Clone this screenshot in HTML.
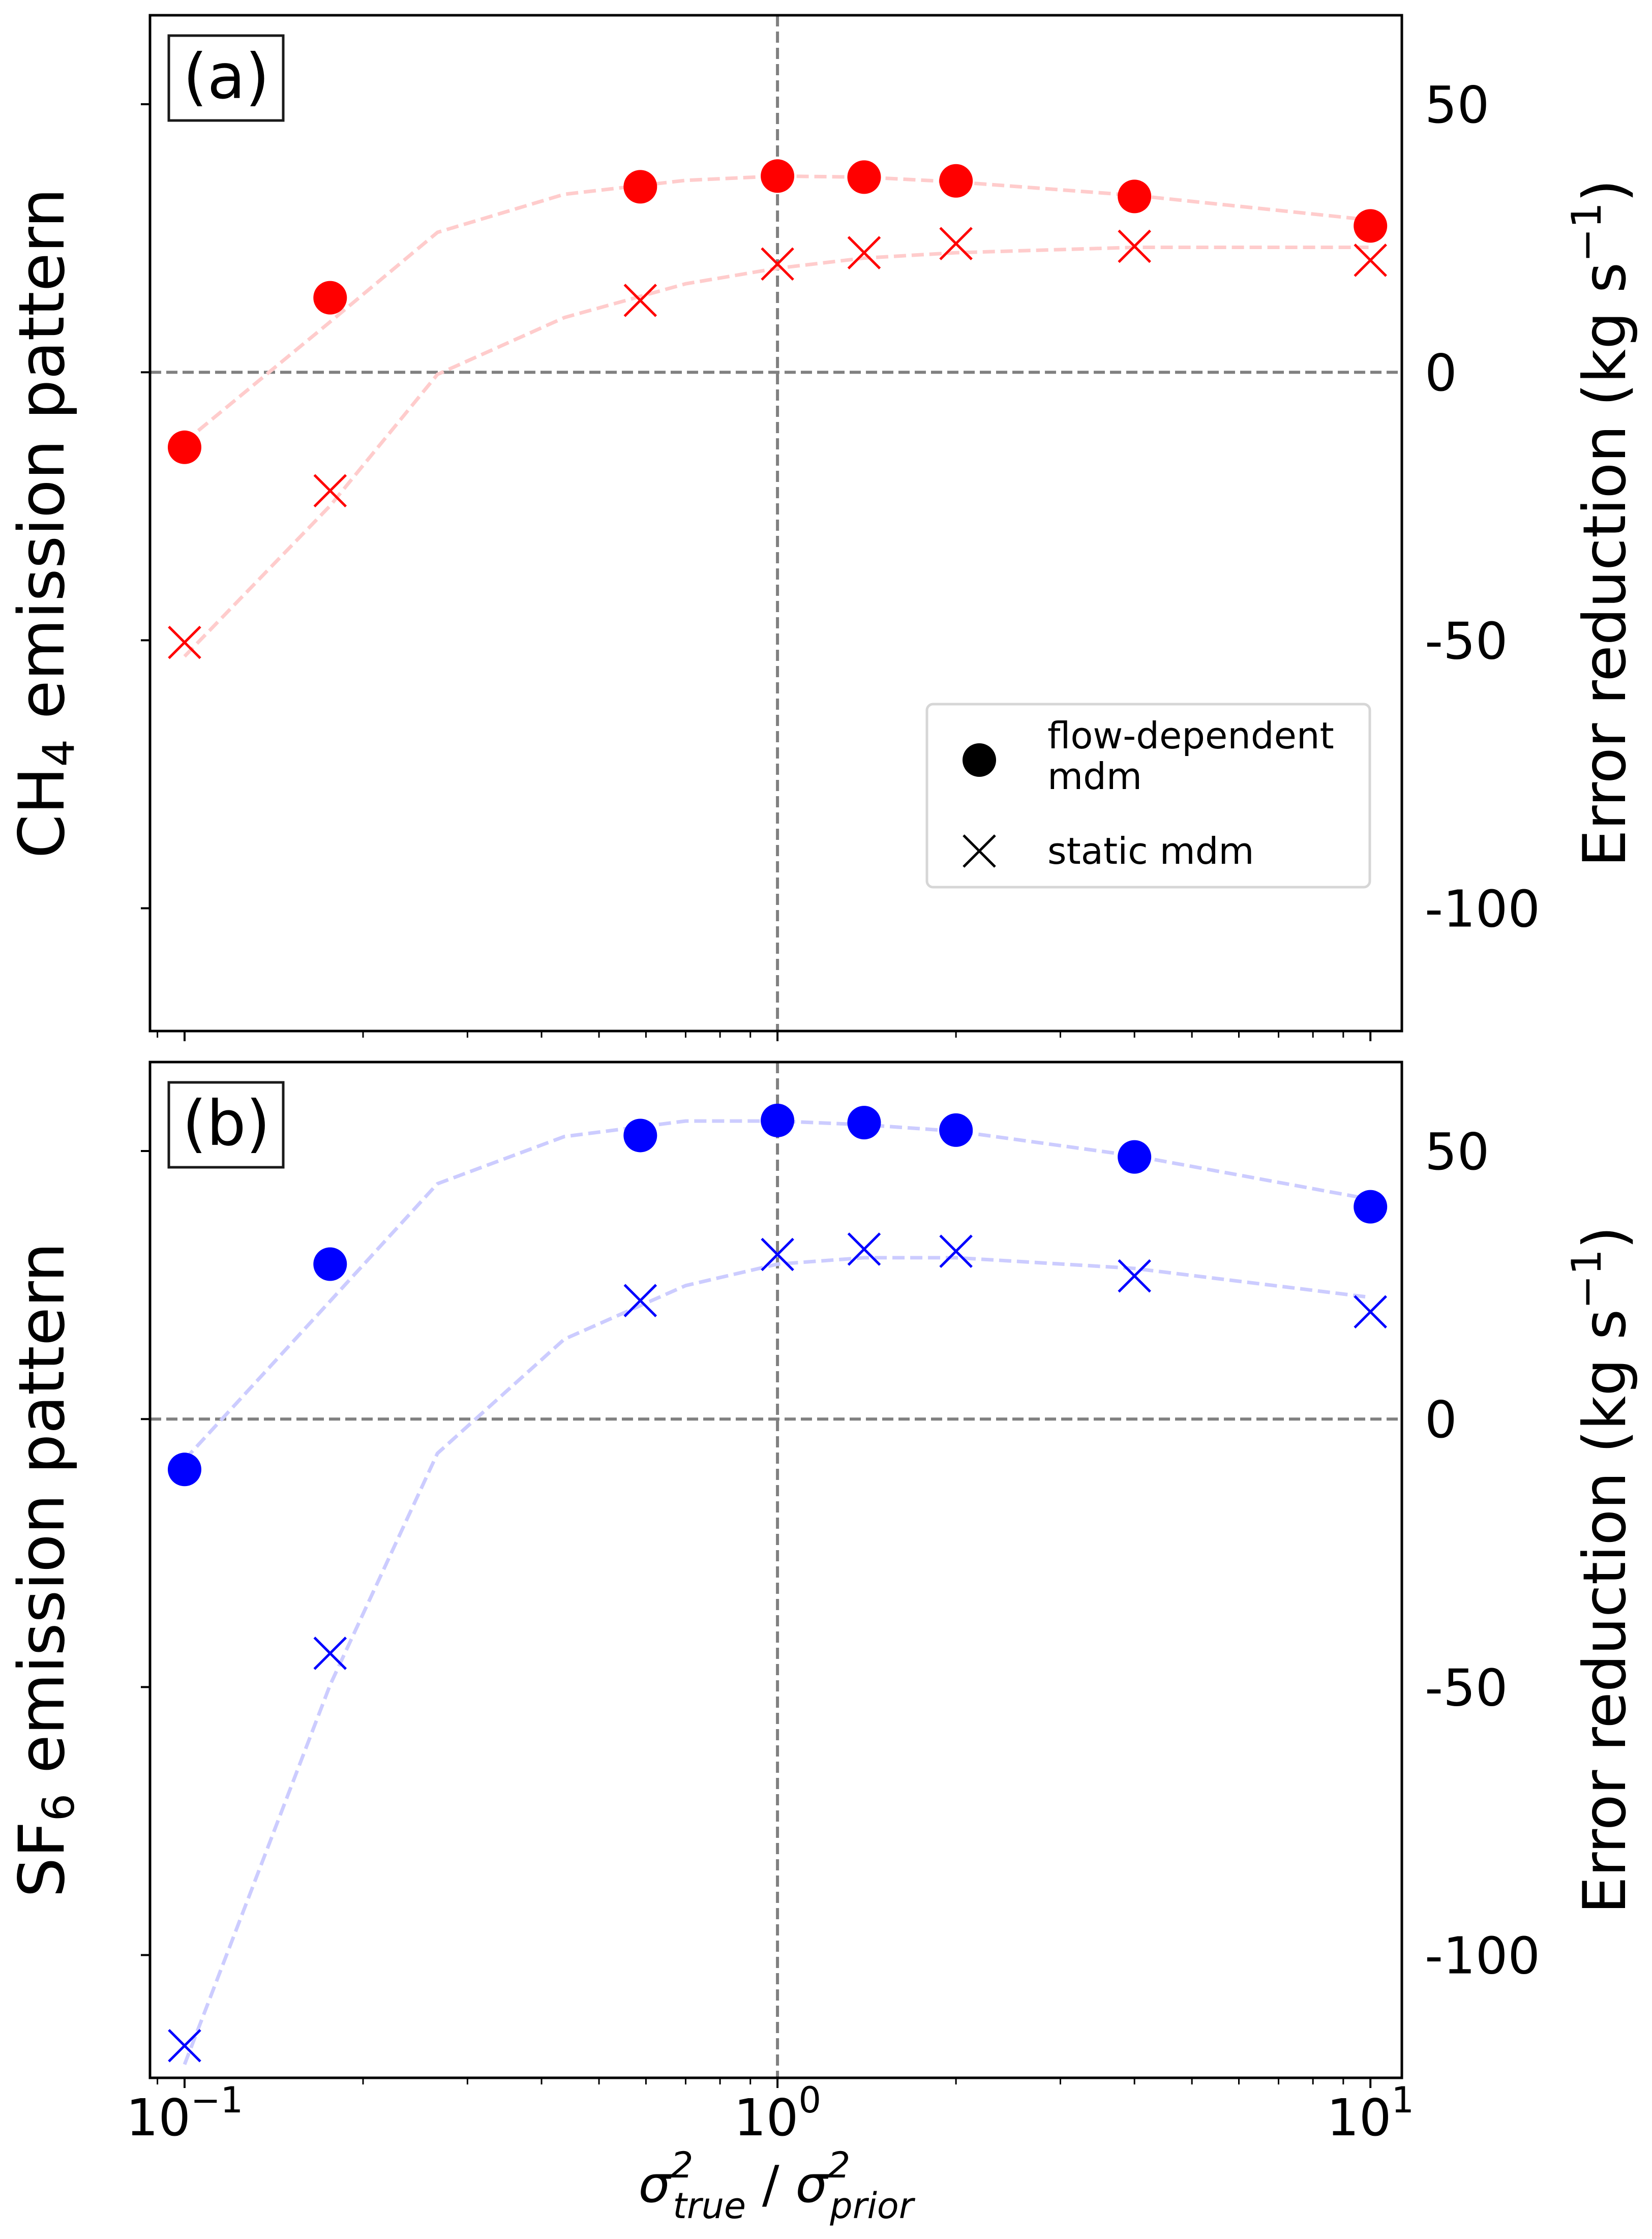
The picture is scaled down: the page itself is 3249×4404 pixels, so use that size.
<!DOCTYPE html>
<html><head><meta charset="utf-8"><style>
html,body{margin:0;padding:0;background:#fff;}
svg{display:block;font-family:"DejaVu Sans","Liberation Sans",sans-serif;}
</style></head><body>
<svg id="chart" xmlns="http://www.w3.org/2000/svg" width="3249" height="4404" viewBox="0 0 3249 4404"></svg>
<script>
const xs=[0.1,0.176,0.587,1,1.4,2,4,10];
const lineXs=[0.1,0.176,0.267,0.437,0.7,1,1.4,2,4,10];
const aCircle=[-14.0,13.9,34.6,36.6,36.4,35.7,32.8,27.3];
const aCross=[-50.4,-22.1,13.4,20.2,22.3,24.0,23.5,20.9];
const aCircleLine=[-13,9.4,26.1,33.2,35.8,36.6,36.4,35.5,33,28.4];
const aCrossLine=[-53,-24.9,-0.4,10.2,16.5,19.4,21.3,22.3,23.3,23.3];
const bCircle=[-9.4,28.9,52.9,55.7,55.3,53.9,48.9,39.6];
const bCross=[-116.9,-43.7,22.1,30.7,31.7,31.3,26.7,20];
const bCircleLine=[-7.6,22,43.9,52.7,55.6,55.6,54.9,53.7,49.1,41];
const bCrossLine=[-120.4,-49.6,-6.4,14.9,24.9,28.9,30.1,30.1,28.1,22.7];
const yTicks=[50,0,-50,-100];
const yTickLabels=["50","0","-50","-100"];
const xTickExps=[-1,0,1];

const NS="http://www.w3.org/2000/svg";
const svg=document.getElementById('chart');
const L=295,R=2757,XMIN=-1.0583,XMAX=1.053,YMAX=66.6,YMIN=-122.9,PH=1998;
function xS(v){return L+(Math.log10(v)-XMIN)/(XMAX-XMIN)*(R-L);}
function yS(v,top){return top+(YMAX-v)/(YMAX-YMIN)*PH;}
function el(tag,attrs,parent){const e=document.createElementNS(NS,tag);for(const k in attrs)e.setAttribute(k,attrs[k]);(parent||svg).appendChild(e);return e;}

function panel(top,key,color,faint,circ,cross,circLine,crossLine,leftLabel,sub,showX){
  const g=el('g',{});
  
  
  const bottom=top+PH;
  const h=el('line',{x1:L,x2:R,y1:yS(0,top),y2:yS(0,top),stroke:'#808080','stroke-width':6,'stroke-dasharray':'22,10'},g);
  
  
  const v=el('line',{x1:xS(1),x2:xS(1),y1:top,y2:bottom,stroke:'#808080','stroke-width':6,'stroke-dasharray':'22,10'},g);
  
  
  [[circLine,'flow-dependent-trend-line'],[crossLine,'static-trend-line']].forEach(([arr,nm])=>{
    const p=el('polyline',{points:lineXs.map((x,i)=>xS(x)+','+yS(arr[i],top)).join(' '),fill:'none',stroke:faint,'stroke-width':7,'stroke-dasharray':'24,11'},g);
    
    
  });
  xs.forEach((x,i)=>{
    const c=el('circle',{cx:xS(x),cy:yS(circ[i],top),r:33,fill:color},g);
    
    
    const cx=xS(x),cy=yS(cross[i],top),s=31;
    const p=el('path',{d:`M${cx-s},${cy-s}L${cx+s},${cy+s}M${cx-s},${cy+s}L${cx+s},${cy-s}`,stroke:color,'stroke-width':5,fill:'none'},g);
    
    
  });
  const f=el('rect',{x:L,y:top,width:R-L,height:PH,fill:'none',stroke:'#000','stroke-width':5},g);
  
  
  yTicks.forEach((t,i)=>{
    const y=yS(t,top);
    const tk=el('line',{x1:L-18,x2:L,y1:y,y2:y,stroke:'#000','stroke-width':4},g);
    
    
    const tx=el('text',{x:2802,y:y+36,'font-size':100,fill:'#000'},g);
    tx.textContent=yTickLabels[i];
    
    
  });
  for(let e=-2;e<=1;e++){for(let m=1;m<=9;m++){
    const val=m*Math.pow(10,e);const lv=Math.log10(val);
    if(lv<XMIN||lv>XMAX)continue;
    const x=xS(val);const major=m===1;
    const tk=el('line',{x1:x,x2:x,y1:bottom,y2:bottom+(major?20:13),stroke:'#000','stroke-width':major?4:3},g);
    
    
  }}
  if(showX){
    xTickExps.forEach(e=>{
      const t=el('text',{x:xS(Math.pow(10,e)),y:4200,'font-size':100,'text-anchor':'middle',fill:'#000'},g);
      t.innerHTML='10<tspan font-size="70" dy="-45">'+(e<0?'\u2212':'')+Math.abs(e)+'</tspan>';
      
      
    });
  }
  const bx=el('rect',{x:332,y:top+40,width:225,height:167,fill:'#fff',stroke:'#1a1a1a','stroke-width':5},g);
  
  
  const pl=el('text',{x:445,y:top+163,'font-size':122,'text-anchor':'middle',fill:'#000'},g);
  pl.textContent='('+key+')';
  
  
  const cy=top+PH/2;
  const ll=el('text',{x:0,y:0,'font-size':124,'text-anchor':'middle',fill:'#000',transform:`translate(125,${cy}) rotate(-90)`},g);
  ll.innerHTML=leftLabel+'<tspan font-size="86" dy="20">'+sub+'</tspan><tspan dy="-20"> emission pattern</tspan>';
  
  
  const rl=el('text',{x:0,y:0,'font-size':116,'text-anchor':'middle',fill:'#000',transform:`translate(3196,${cy}) rotate(-90)`},g);
  rl.innerHTML='Error reduction (kg s<tspan font-size="80" dy="-48">\u22121</tspan><tspan dy="48">)</tspan>';
  
  
}
panel(30,'a','#ff0000','#ffcccc',aCircle,aCross,aCircleLine,aCrossLine,'CH','4',false);
panel(2089,'b','#0000ff','#ccccff',bCircle,bCross,bCircleLine,bCrossLine,'SF','6',true);

const lg=el('g',{});


const lb=el('rect',{x:1823,y:1385,width:871,height:360,rx:12,fill:'#fff',stroke:'#d6d6d6','stroke-width':5},lg);


const lc=el('circle',{cx:1926,cy:1495,r:33,fill:'#000'},lg);


const lx=el('path',{d:'M1895,1643L1957,1705M1895,1705L1957,1643',stroke:'#000','stroke-width':5},lg);


[['flow-dependent',1472,'legend-entry-flow-dependent'],['mdm',1552,'legend-entry-flow-dependent-2'],['static mdm',1699,'legend-entry-static']].forEach(([t,y,n])=>{
  const tx=el('text',{x:2060,y:y,'font-size':72,fill:'#000'},lg);
  tx.textContent=t;
  
  
});

const xt=el('text',{x:1526,y:4331,'font-size':100,'text-anchor':'middle','font-style':'italic',fill:'#000'});
xt.innerHTML='σ<tspan font-size="70" dy="-48">2</tspan><tspan font-size="70" dx="-40" dy="80">true</tspan><tspan dy="-32" font-style="normal"> / </tspan>σ<tspan font-size="70" dy="-48">2</tspan><tspan font-size="70" dx="-40" dy="80">prior</tspan>';


</script>
</body></html>
